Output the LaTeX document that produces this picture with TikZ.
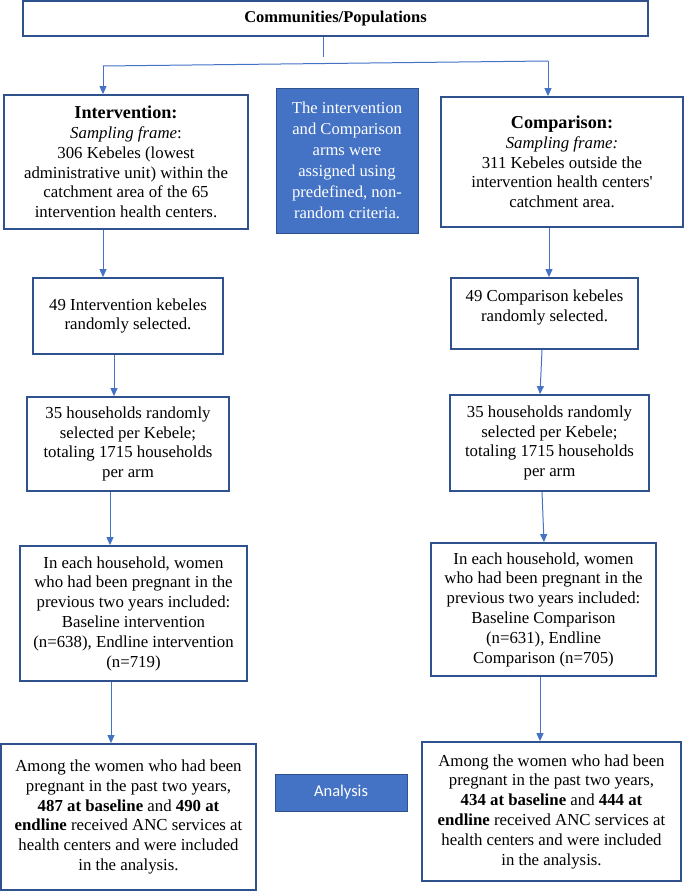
\documentclass[tikz,border=0pt]{standalone}
\usepackage{fontspec}
\setmainfont{Liberation Serif}
\newfontfamily\nomapfont{Liberation Serif}[Ligatures=TeXOff]
\newfontfamily\calib{Carlito}
\usetikzlibrary{arrows.meta}
\definecolor{bord}{HTML}{2F528F}
\definecolor{arrc}{HTML}{4472C4}
\definecolor{fillb}{HTML}{4472C4}
\begin{document}
\begin{tikzpicture}[x=1pt,y=-1pt,
  box/.style={draw=bord, line width=1.8pt, fill=white, align=center, inner sep=0pt,
    font=\fontsize{16.8}{19.8}\selectfont},
  bluebox/.style={draw=bord, line width=1pt, fill=fillb, text=white, align=center, inner sep=0pt,
    font=\fontsize{16.6}{21}\selectfont},
  arr/.style={draw=arrc, line width=1pt, -{Triangle[length=8pt,width=7pt]}},
  conn/.style={draw=arrc, line width=1pt}]

\useasboundingbox (0,0) rectangle (685,891);

\node[box, minimum width=625pt, minimum height=35pt, font=\bfseries\fontsize{16.5}{19}\selectfont]
  (top) at (335.5,18.5) {Communities/Populations};

\node[box, minimum width=244pt, minimum height=134pt] (interv) at (126,162)
  {{\bfseries\fontsize{18.2}{21}\selectfont Intervention:}\\
   \textit{Sampling frame}:\\306 Kebeles (lowest\\administrative unit) within the\\catchment area of the 65\\intervention health centers.};

\node[bluebox, minimum width=142pt, minimum height=145pt] (blue) at (347,160.5)
  {The intervention\\and Comparison\\arms were\\assigned using\\predefined, non-\\random criteria.};

\node[box, minimum width=242pt, minimum height=130pt] (comp) at (562,162)
  {{\bfseries\fontsize{18.2}{21}\selectfont Comparison:}\\
   \textit{Sampling frame:}\\311 Kebeles outside the\\intervention health centers{\nomapfont'}\\catchment area.};

\node[box, minimum width=190pt, minimum height=76pt] (k49L) at (128,316)
  {49 Intervention kebeles\\randomly selected.};
\node[box, minimum width=187pt, minimum height=71pt] (k49R) at (544.5,313.5)
  {49 Comparison kebeles\\randomly selected.\\[-4pt]\mbox{}};

\node[box, minimum width=202pt, minimum height=94pt] (h35L) at (128,444)
  {35 households randomly\\selected per Kebele;\\totaling 1715 households\\per arm};
\node[box, minimum width=199pt, minimum height=96pt] (h35R) at (549.5,443)
  {35 households randomly\\selected per Kebele;\\totaling 1715 households\\per arm};

\node[box, minimum width=227pt, minimum height=135pt] (wL) at (133.5,613.5)
  {In each household, women\\who had been pregnant in the\\previous two years included:\\Baseline intervention\\(n=638), Endline intervention\\(n=719)};
\node[box, minimum width=225pt, minimum height=133pt] (wR) at (543.5,609.5)
  {In each household, women\\who had been pregnant in the\\previous two years included:\\Baseline Comparison\\(n=631), Endline\\Comparison (n=705)};

\node[box, minimum width=255pt, minimum height=146pt] (aL) at (128.5,817)
  {Among the women who had been\\pregnant in the past two years,\\\textbf{487 at baseline} and \textbf{490 at}\\\textbf{endline} received ANC services at\\health centers and were included\\in the analysis.};
\node[box, minimum width=259pt, minimum height=139pt] (aR) at (551.5,811.5)
  {Among the women who had been\\pregnant in the past two years,\\\textbf{434 at baseline} and \textbf{444 at}\\\textbf{endline} received ANC services at\\health centers and were included\\in the analysis.};

\node[bluebox, font=\calib\fontsize{16.5}{20}\selectfont, minimum width=132pt, minimum height=37pt]
  (ana) at (341,792.5) {Analysis};

% connectors
\coordinate (tj) at (323,57);
\coordinate (hl) at (103,66);
\coordinate (hr) at (548,61);
\draw[conn] ([xshift=-12.5pt]top.south) -- (tj);
\draw[conn] (hl) -- (hr);
\draw[arr] (hl) -- ([xshift=-23pt]interv.north);
\draw[arr] (hr) -- ([xshift=-14pt]comp.north);

\draw[arr] ([xshift=-23pt]interv.south) -- ([xshift=-25pt]k49L.north);
\draw[arr] ([xshift=-14pt]k49L.south) -- ([xshift=-14pt]h35L.north);
\draw[arr] ([xshift=-18pt]h35L.south) -- ([xshift=-23.5pt]wL.north);
\draw[arr] ([xshift=-22.5pt]wL.south) -- ([xshift=-17.5pt]aL.north);

\draw[arr] ([xshift=-13pt]comp.south) -- ([xshift=4.5pt]k49R.north);
\draw[arr] ([xshift=-2.5pt]k49R.south) -- ([xshift=-9.5pt]h35R.north);
\draw[arr] ([xshift=-7.5pt]h35R.south) -- ([xshift=0.5pt]wR.north);
\draw[arr] ([xshift=-3.5pt]wR.south) -- ([xshift=-11.5pt]aR.north);
\end{tikzpicture}
\end{document}
